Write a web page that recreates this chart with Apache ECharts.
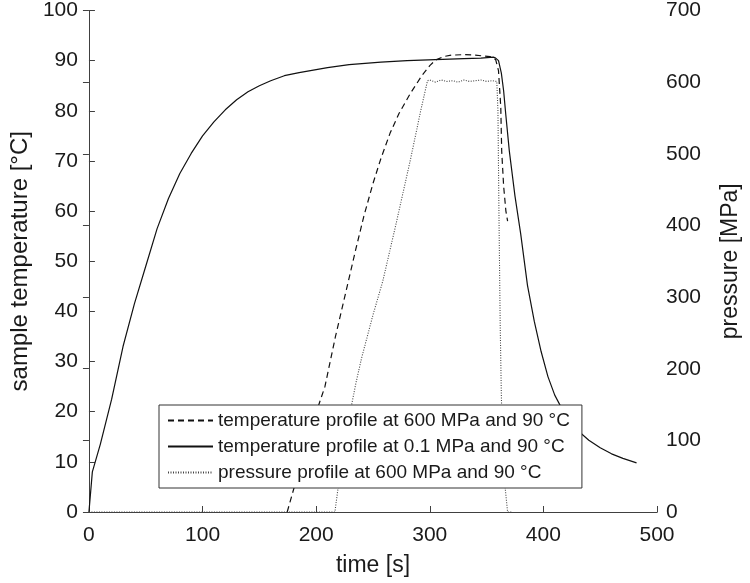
<!DOCTYPE html>
<html>
<head>
<meta charset="utf-8">
<script src="https://cdn.jsdelivr.net/npm/echarts@6/dist/echarts.min.js"></script>
<style>html,body{margin:0;padding:0;background:#fff}#c{width:750px;height:583px}</style>
</head>
<body>
<div id="c"></div>
<script>
// time ticks / axis ranges
const xTicks = [0, 100, 200, 300, 400, 500];
const tempTicks = [0, 10, 20, 30, 40, 50, 60, 70, 80, 90, 100];
const pressTicks = [0, 100, 200, 300, 400, 500, 600, 700];

const legendNames = [
  'temperature profile at 600 MPa and 90 °C',
  'temperature profile at 0.1 MPa and 90 °C',
  'pressure profile at 600 MPa and 90 °C'
];

// temperature at 600 MPa (dashed)
const hpTime = [174.5, 182, 190, 198, 207.7, 217, 227.5, 235, 242, 250, 257, 265, 273, 283, 293, 300, 305, 312, 319, 330, 340, 353, 358, 360.5, 362.5, 363.3, 365, 367, 368.5];
const hpTemp = [0, 6, 12.5, 18.5, 25, 35, 45.2, 52.5, 59, 65.5, 70.5, 75.5, 79.5, 83.5, 87, 89, 90.1, 90.8, 91.1, 91.2, 91.1, 90.8, 90.2, 88, 80.7, 72, 65, 60, 58];

// temperature at 0.1 MPa (solid)
const lpTime = [0, 3, 10, 20, 30, 40, 50, 60, 70, 80, 90, 100, 110, 120, 130, 140, 150, 160, 172, 185, 195, 210, 229, 257, 280, 305, 330, 345, 356, 358, 360.5, 363, 365, 367, 370, 375, 380, 386, 392, 398, 404, 410, 420, 430, 440, 450, 460, 470, 482];
const lpTemp = [0, 8, 13.5, 22.5, 33, 41.5, 49, 56.5, 62.5, 67.5, 71.5, 75, 77.8, 80.2, 82.2, 83.8, 85, 86, 87, 87.6, 88, 88.6, 89.2, 89.7, 90, 90.2, 90.4, 90.5, 90.7, 90.5, 90, 87.5, 84, 79, 72, 63, 55.5, 45.2, 38, 32, 27, 23.3, 19, 16.3, 14.3, 12.8, 11.6, 10.7, 9.8];

// pressure profile (dotted)
const prTime = [0, 216.5, 219, 222, 226, 230, 235, 240, 250, 258.6, 270, 283, 292, 298, 300, 305, 310, 315, 320, 325, 330, 335, 340, 345, 350, 355, 359, 360, 361, 362, 363, 364, 365.7, 368.5, 372];
const prVal = [0, 0, 30, 60, 100, 140, 180, 215, 275, 322, 400, 492, 560, 602, 603, 600, 603, 601, 602, 600, 603, 601, 602, 603, 601, 602, 601, 560, 400, 260, 163, 100, 44, 0, 0];

const zip = (a, b) => a.map((v, i) => [v, b[i]]);

const FONT = 'Liberation Sans, Arial, sans-serif';
const AX = '#404040';
const TXT = '#1a1a1a';

const chart = echarts.init(document.getElementById('c'), null, {renderer: 'canvas'});

const baseAxis = {
  axisLine: {show: true, lineStyle: {color: AX, width: 1}},
  axisTick: {show: true, inside: true, length: 6, lineStyle: {color: AX, width: 1}},
  splitLine: {show: false},
  axisLabel: {color: TXT, fontSize: 21, fontFamily: FONT},
  nameTextStyle: {color: TXT, fontSize: 23, fontFamily: FONT}
};

chart.setOption({
  animation: false,
  backgroundColor: '#fff',
  grid: {left: 77, right: 84, top: 10, bottom: 71, containLabel: false},
  xAxis: [
    Object.assign({}, baseAxis, {
      type: 'value', min: xTicks[0], max: xTicks[xTicks.length - 1], interval: 100,
      position: 'bottom',
      name: 'time [s]', nameLocation: 'middle', nameGap: 42,
      axisLabel: Object.assign({}, baseAxis.axisLabel, {margin: 13})
    }),
    Object.assign({}, baseAxis, {
      type: 'value', min: xTicks[0], max: xTicks[xTicks.length - 1], interval: 100,
      position: 'top', axisLabel: {show: false}, axisTick: {show: false}
    })
  ],
  yAxis: [
    Object.assign({}, baseAxis, {
      type: 'value', min: tempTicks[0], max: tempTicks[tempTicks.length - 1], interval: 10,
      position: 'left',
      name: 'sample temperature [°C]', nameLocation: 'middle', nameGap: 47,
      nameTextStyle: {color: TXT, fontSize: 24, fontFamily: FONT},
      axisLabel: Object.assign({}, baseAxis.axisLabel, {margin: 11})
    }),
    Object.assign({}, baseAxis, {
      type: 'value', min: pressTicks[0], max: pressTicks[pressTicks.length - 1], interval: 100,
      position: 'right',
      name: 'pressure [MPa]', nameLocation: 'middle', nameGap: 62,
      axisLabel: Object.assign({}, baseAxis.axisLabel, {margin: 9})
    })
  ],
  legend: {
    orient: 'vertical', left: 159, top: 405,
    padding: [6, 12, 6, 8],
    itemWidth: 45, itemHeight: 14, itemGap: 7,
    backgroundColor: '#fff', borderColor: '#333', borderWidth: 1, borderRadius: 0,
    itemStyle: {opacity: 0},
    textStyle: {fontSize: 19, color: TXT, fontFamily: FONT},
    data: legendNames
  },
  series: [
    {
      name: legendNames[0], type: 'line', xAxisIndex: 0, yAxisIndex: 0,
      data: zip(hpTime, hpTemp), symbol: 'none',
      lineStyle: {color: '#111', width: 1.2, type: [6, 4]}, itemStyle: {color: '#111'}
    },
    {
      name: legendNames[1], type: 'line', xAxisIndex: 0, yAxisIndex: 0,
      data: zip(lpTime, lpTemp), symbol: 'none',
      lineStyle: {color: '#111', width: 1.2, type: 'solid'}, itemStyle: {color: '#111'}
    },
    {
      name: legendNames[2], type: 'line', xAxisIndex: 0, yAxisIndex: 1,
      data: zip(prTime, prVal), symbol: 'none',
      lineStyle: {color: '#444', width: 1.1, type: [1, 1.5]}, itemStyle: {color: '#444'}
    }
  ]
});
</script>
</body>
</html>
